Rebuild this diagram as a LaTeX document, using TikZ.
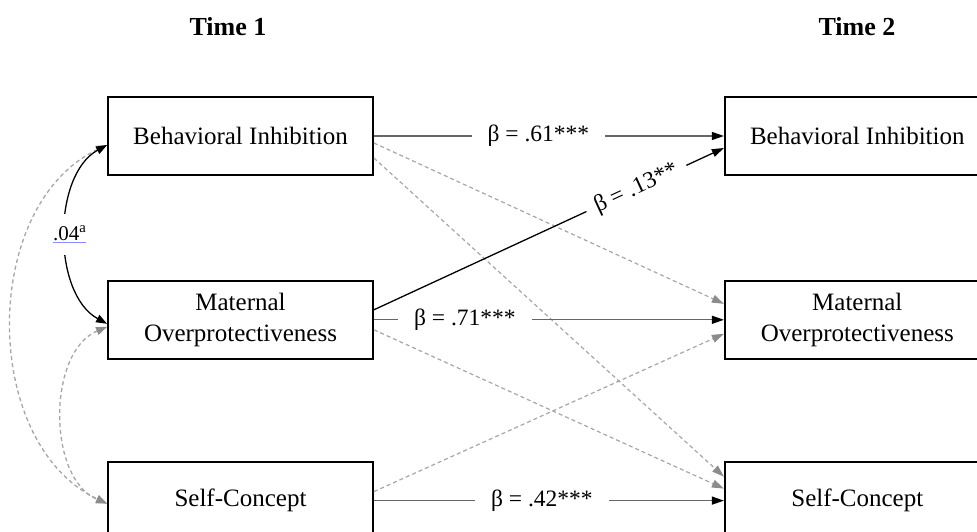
\documentclass[tikz,border=0pt]{standalone}
\usepackage{fontspec}
\setmainfont{Liberation Serif}
\usetikzlibrary{arrows.meta,positioning}
\newcommand\undl[1]{\setbox0\hbox{#1}\rlap{\color{blue!45}\rule[-2.5pt]{\wd0}{0.7pt}}\box0}

\begin{document}
\begin{tikzpicture}[x=1pt,y=-1pt,
  box/.style={draw,line width=1.8pt,minimum width=265pt,minimum height=78pt,inner sep=0pt,align=center,font=\fontsize{25}{31}\selectfont},
  eff/.style={draw=black!60,line width=1.3pt,-{Triangle[length=12pt,width=8pt,color=black]}},
  ns/.style={draw=black!35,line width=1.2pt,dash pattern=on 4pt off 3pt,-{Triangle[length=12pt,width=8pt,color=black!45]}},
  cov/.style={line width=1.3pt,{Triangle[length=11pt,width=8pt]}-{Triangle[length=11pt,width=8pt]}},
  lbl/.style={fill=white,inner xsep=16pt,font=\fontsize{23.5}{27}\selectfont}]
\clip (0,0) rectangle (977,532);
% time 1
\node[font=\bfseries\fontsize{26}{30}\selectfont] (t1) at (228,27) {Time 1};
\node[box] (bi1) at (240.5,136) {Behavioral Inhibition};
\node[box,below=104pt of bi1] (mo1) {Maternal\\Overprotectiveness};
\node[box,below=101pt of mo1] (sc1) {Self-Concept};
% time 2
\node[font=\bfseries\fontsize{26}{30}\selectfont] (t2) at (857,27) {Time 2};
\node[box,right=350pt of bi1] (bi2) {Behavioral Inhibition};
\node[box,right=350pt of mo1] (mo2) {Maternal\\Overprotectiveness};
\node[box,right=350pt of sc1] (sc2) {Self-Concept};
% non-significant paths
\draw[ns] ([yshift=-7pt]bi1.east) -- ([yshift=16pt]mo2.west);
\draw[ns] ([yshift=-22pt]bi1.east) -- ([yshift=24pt]sc2.west);
\draw[ns] ([yshift=-10pt]mo1.east) -- ([yshift=12pt]sc2.west);
\draw[ns] ([yshift=9pt]sc1.east) -- ([yshift=-14pt]mo2.west);
% stability and cross-lagged paths
\draw[eff] (bi1) -- node[lbl,pos=0.47]{β = .61***} (bi2);
\draw[eff] (mo1) -- node[lbl,pos=0.26]{β = .71***} (mo2);
\draw[eff] (sc1) -- node[lbl,pos=0.48]{β = .42***} (sc2);
\draw[eff,draw=black] ([yshift=10pt]mo1.east) -- node[lbl,sloped,pos=0.75,inner xsep=10pt]{β = .13**} ([yshift=-12pt]bi2.west);
% correlations at time 1
\draw[cov,draw=black!35,dash pattern=on 4pt off 3pt,{Triangle[length=11pt,width=8pt,color=black!45]}-{Triangle[length=11pt,width=8pt,color=black!45]}]
  ([yshift=-9pt]bi1.west) .. controls +(-127,60) and +(-127,-60) .. ([yshift=-3pt]sc1.west);
\draw[cov,draw=black!35,dash pattern=on 4pt off 3pt,{Triangle[length=11pt,width=8pt,color=black!45]}-{Triangle[length=11pt,width=8pt,color=black!45]}]
  ([yshift=-7pt]mo1.west) .. controls +(-60,25) and +(-60,-25) .. ([yshift=-3pt]sc1.west);
\draw[cov] ([yshift=-9pt]bi1.west) .. controls +(-55,30) and +(-55,-30) ..
  node[fill=white,inner xsep=1pt,inner ysep=12pt,font=\fontsize{21}{24}\selectfont,xshift=4pt] (r) {\undl{.04\textsuperscript{a}}}
  ([yshift=-4pt]mo1.west);
\end{tikzpicture}
\end{document}
